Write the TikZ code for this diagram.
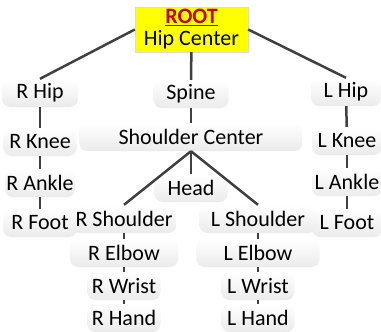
\documentclass[tikz,border=0pt]{standalone}
\usepackage{fontspec}
\setmainfont{Carlito}
\usepackage{xcolor}
\usepackage{tikz}
\usetikzlibrary{positioning}
\definecolor{rootred}{RGB}{192,0,0}
\definecolor{rootyellow}{RGB}{255,255,0}
\definecolor{bonegray}{RGB}{64,64,64}

\begin{document}
\begin{tikzpicture}[
    x=1pt, y=-1pt,
    joint/.style={rectangle, rounded corners=8pt, top color=white, bottom color=gray!16, minimum width=#1, minimum height=28pt, inner sep=0pt, text centered, font=\fontsize{22}{22}\selectfont},
    joint/.default=74pt,
    bone/.style={line width=2.5pt, draw=bonegray}
]
\useasboundingbox (0,0) rectangle (381,332);

% Root
\node[rectangle, fill=rootyellow, draw=gray!30, minimum width=113pt, minimum height=45pt, inner sep=0pt, align=center, font=\fontsize{22}{22}\selectfont] (root) at (191.5, 29.5) {\textcolor{rootred}{\textbf{\underline{ROOT}}}\\Hip Center};

% Hips and spine
\node[joint=76pt] (rhip) at (40, 93) {R Hip};
\node[joint=75pt] (spine) at (191, 94) {Spine};
\node[joint=70pt] (lhip) at (346, 92) {L Hip};
\node[joint=223pt] (shcenter) at (191, 137) {Shoulder Center};
\node[joint=73pt] (head) at (191, 188) {Head};

% Right leg
\node[joint=73pt] (rknee) at (40, 142) {R Knee};
\node[joint=70pt] (rankle) at (40, 183) {R Ankle};
\node[joint=74pt] (rfoot) at (40, 223) {R Foot};

% Left leg
\node[joint=70pt] (lknee) at (347, 141) {L Knee};
\node[joint=70pt] (lankle) at (347, 182) {L Ankle};
\node[joint=70pt] (lfoot) at (347, 223) {L Foot};

% Right arm
\node[joint=105pt] (rshoulder) at (124, 219) {R Shoulder};
\node[joint=108pt] (relbow) at (124, 253) {R Elbow};
\node[joint=73pt] (rwrist) at (124, 286) {R Wrist};
\node[joint=73pt] (rhand) at (124, 318) {R Hand};

% Left arm
\node[joint=117pt] (lshoulder) at (258, 219) {L Shoulder};
\node[joint=123pt] (lelbow) at (258, 253) {L Elbow};
\node[joint=73pt] (lwrist) at (258, 286) {L Wrist};
\node[joint=73pt] (lhand) at (258, 318) {L Hand};

% Bones
\draw[bone] (root.west) -- (rhip.north);
\draw[bone] (root.east) -- (lhip.north);
\draw[bone] (root) -- (spine);
\draw[bone] (spine) -- (shcenter);
\draw[bone] (shcenter.south) -- (rshoulder.north);
\draw[bone] (shcenter.south) -- (head.north);
\draw[bone] (shcenter.south) -- (lshoulder.north);
\draw[bone] (rhip) -- (rknee);
\draw[bone] (rknee) -- (rankle);
\draw[bone] (rankle) -- (rfoot);
\draw[bone] (lhip) -- (lknee);
\draw[bone] (lknee) -- (lankle);
\draw[bone] (lankle) -- (lfoot);
\draw[bone] (rshoulder) -- (relbow);
\draw[bone] (relbow) -- (rwrist);
\draw[bone] (rwrist) -- (rhand);
\draw[bone] (lshoulder) -- (lelbow);
\draw[bone] (lelbow) -- (lwrist);
\draw[bone] (lwrist) -- (lhand);

\end{tikzpicture}
\end{document}
